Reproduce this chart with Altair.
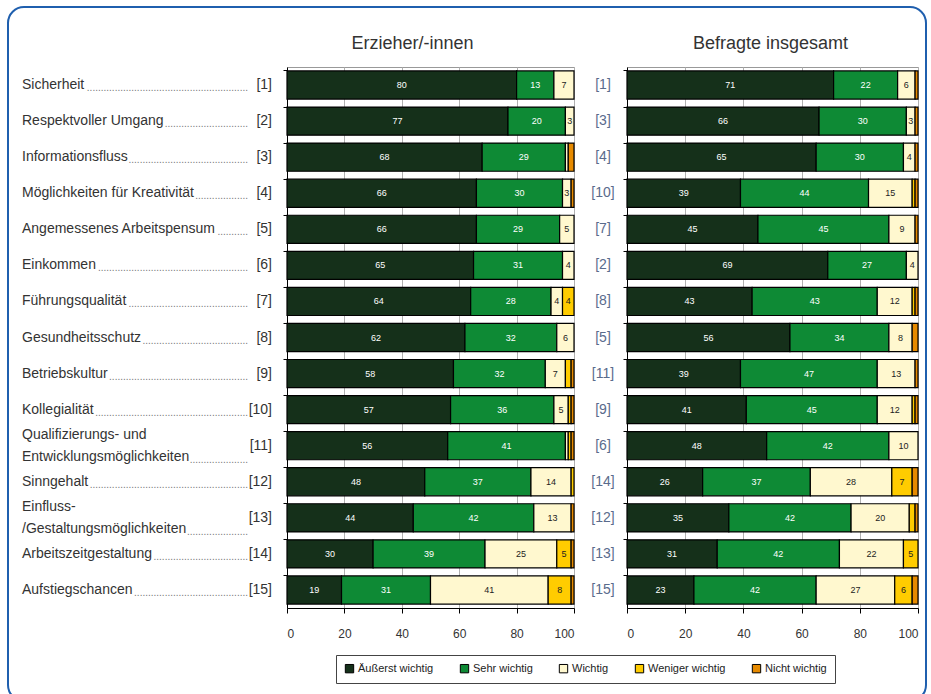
import altair as alt
import pandas as pd

items = [
    "Sicherheit", "Respektvoller Umgang", "Informationsfluss",
    "Möglichkeiten für Kreativität", "Angemessenes Arbeitspensum", "Einkommen",
    "Führungsqualität", "Gesundheitsschutz", "Betriebskultur", "Kollegialität",
    "Qualifizierungs- und\nEntwicklungsmöglichkeiten", "Sinngehalt",
    "Einfluss-\n/Gestaltungsmöglichkeiten", "Arbeitszeitgestaltung", "Aufstiegschancen",
]
rank_left = [1, 2, 3, 4, 5, 6, 7, 8, 9, 10, 11, 12, 13, 14, 15]
rank_right = [1, 3, 4, 10, 7, 2, 8, 5, 11, 9, 6, 14, 12, 13, 15]

categories = ["Äußerst wichtig", "Sehr wichtig", "Wichtig", "Weniger wichtig", "Nicht wichtig"]
colors = ["#15301a", "#0e8a35", "#fff8cf", "#ffcc00", "#e68a00"]

left_aeusserst = [80, 77, 68, 66, 66, 65, 64, 62, 58, 57, 56, 48, 44, 30, 19]
left_sehr = [13, 20, 29, 30, 29, 31, 28, 32, 32, 36, 41, 37, 42, 39, 31]
left_wichtig = [7, 3, 1, 3, 5, 4, 4, 6, 7, 5, 1, 14, 13, 25, 41]
left_weniger = [0, 0, 0, 0, 0, 0, 4, 0, 2, 1, 1, 1, 0, 5, 8]
left_nicht = [0, 0, 2, 1, 0, 0, 0, 0, 1, 1, 1, 0, 1, 1, 1]

right_aeusserst = [71, 66, 65, 39, 45, 69, 43, 56, 39, 41, 48, 26, 35, 31, 23]
right_sehr = [22, 30, 30, 44, 45, 27, 43, 34, 47, 45, 42, 37, 42, 42, 42]
right_wichtig = [6, 3, 4, 15, 9, 4, 12, 8, 13, 12, 10, 28, 20, 22, 27]
right_weniger = [0, 0, 0, 1, 0, 0, 1, 0, 0, 1, 0, 7, 2, 5, 6]
right_nicht = [1, 1, 1, 1, 1, 0, 1, 2, 1, 1, 0, 2, 1, 0, 2]

title_left = "Erzieher/-innen"
title_right = "Befragte insgesamt"
x_ticks = [0, 20, 40, 60, 80, 100]

FONT = "Liberation Sans"
keys = [s.replace("\n", " ") for s in items]

# ---- helpers -------------------------------------------------------------
AW = {'a': 556, 'b': 556, 'c': 500, 'd': 556, 'e': 556, 'f': 278, 'g': 556, 'h': 556,
      'i': 222, 'j': 222, 'k': 500, 'l': 222, 'm': 833, 'n': 556, 'o': 556, 'p': 556,
      'q': 556, 'r': 333, 's': 500, 't': 278, 'u': 556, 'v': 500, 'w': 722, 'x': 500,
      'y': 500, 'z': 500, 'ä': 556, 'ö': 556, 'ü': 556, 'ß': 611, 'A': 667, 'B': 667,
      'E': 667, 'F': 611, 'G': 778, 'I': 278, 'K': 667, 'M': 833, 'Q': 778, 'R': 722,
      'S': 667, 'U': 722, '-': 333, '/': 278, ' ': 278, '.': 278}


def text_width(s, size):
    return sum(AW.get(c, 556) for c in s) / 1000.0 * size


LABEL_SIZE = 14
DOT_SIZE = 10
DOT_END = 248
LABEL_X = 22
HALF_LINE = 11

rows = []
for key, s, r in zip(keys, items, rank_left):
    lines = s.split("\n")
    avail = DOT_END - LABEL_X - text_width(lines[-1], LABEL_SIZE)
    n = max(0, int(avail / (0.278 * DOT_SIZE)))
    rows.append(dict(item=key, line1=lines[0], line2=lines[1] if len(lines) > 1 else "",
                     nlines=len(lines), dots="." * n, rank=f"[{r}]"))
lab_df = pd.DataFrame(rows)


def build(series):
    out = []
    for i, key in enumerate(keys):
        start = 0
        for j, cat in enumerate(categories):
            v = series[j][i]
            out.append(dict(item=key, cat=cat, order=j, value=v,
                            start=start, end=start + v, mid=start + v / 2))
            start += v
    return pd.DataFrame(out)


df_left = build([left_aeusserst, left_sehr, left_wichtig, left_weniger, left_nicht])
df_right = build([right_aeusserst, right_sehr, right_wichtig, right_weniger, right_nicht])

ysc = alt.Scale(domain=keys, paddingInner=0.22, paddingOuter=0.11)
H = 541


def bar_panel(df, title, width, dx, show_legend):
    base = alt.Chart(df)
    y_enc = alt.Y("item:N", sort=keys, scale=ysc,
                  axis=alt.Axis(labels=False, title=None, bandPosition=0, tickSize=4,
                                tickColor="black", domainColor="black", grid=False))
    if show_legend:
        legend = alt.Legend(title=None, orient="none", legendX=336, legendY=588,
                            direction="horizontal", symbolType="square", symbolSize=70,
                            symbolStrokeColor="black", symbolStrokeWidth=1, symbolOpacity=1,
                            labelFontSize=11, labelColor="#222", labelFont=FONT,
                            strokeColor="#444", fillColor="white", padding=8,
                            columnPadding=24, labelOffset=3)
    else:
        legend = None
    bars = base.transform_filter("datum.value > 0").mark_bar(
        stroke="black", strokeWidth=1.2).encode(
        x=alt.X("start:Q", scale=alt.Scale(domain=[0, 100], nice=False),
                axis=alt.Axis(values=x_ticks, title=None, labelFontSize=12,
                              labelColor="#333", labelFont=FONT, tickColor="black",
                              domainColor="black", tickSize=5, labelPadding=15,
                              gridColor="#b0b0b0", grid=True)),
        x2="end:Q",
        y=y_enc,
        color=alt.Color("cat:N", scale=alt.Scale(domain=categories, range=colors),
                        legend=legend),
    )
    txt = base.transform_filter("datum.value >= 3").mark_text(
        fontSize=9, font=FONT, baseline="middle").encode(
        x="mid:Q",
        y=alt.Y("item:N", sort=keys, scale=ysc),
        text="value:Q",
        color=alt.condition("datum.order < 2", alt.value("white"), alt.value("#222")),
    )
    return (bars + txt).properties(
        width=width, height=H,
        title=alt.TitleParams(title, fontSize=18, font=FONT, color="#333",
                              fontWeight="normal", offset=14, dx=dx),
        view=alt.ViewBackground(stroke="#999", strokeWidth=1),
    )


rr_df = pd.DataFrame(dict(item=keys, rank=[f"[{r}]" for r in rank_right]))

y_plain = alt.Y("item:N", sort=keys, scale=ysc, axis=None)

frame = alt.Chart(pd.DataFrame(dict(k=[0]))).mark_rect(
    fill="white", fillOpacity=0, stroke="#1f5fae", strokeWidth=2, cornerRadius=16).encode(
    x=alt.value(8), x2=alt.value(926), y=alt.value(-60), y2=alt.value(634))

lab = alt.Chart(lab_df)
txt_style = dict(align="left", baseline="middle", fontSize=LABEL_SIZE, font=FONT, color="#333")
dot_style = dict(align="right", baseline="middle", fontSize=DOT_SIZE, font=FONT, color="#777")

single = lab.transform_filter("datum.nlines == 1").mark_text(**txt_style).encode(
    x=alt.value(LABEL_X), y=y_plain, text="line1:N")
first = lab.transform_filter("datum.nlines == 2").mark_text(dy=-HALF_LINE, **txt_style).encode(
    x=alt.value(LABEL_X), y=y_plain, text="line1:N")
second = lab.transform_filter("datum.nlines == 2").mark_text(dy=HALF_LINE, **txt_style).encode(
    x=alt.value(LABEL_X), y=y_plain, text="line2:N")
dots1 = lab.transform_filter("datum.nlines == 1").mark_text(dy=3, **dot_style).encode(
    x=alt.value(DOT_END), y=y_plain, text="dots:N")
dots2 = lab.transform_filter("datum.nlines == 2").mark_text(dy=HALF_LINE + 3, **dot_style).encode(
    x=alt.value(DOT_END), y=y_plain, text="dots:N")
ranks_l = lab.mark_text(
    align="right", baseline="middle", fontSize=LABEL_SIZE, font=FONT, color="#333").encode(
    x=alt.value(272), y=y_plain, text="rank:N")

label_panel = (frame + single + first + second + dots1 + dots2 + ranks_l).properties(
    width=287, height=H)

rank_panel = alt.Chart(rr_df).mark_text(
    align="center", baseline="middle", fontSize=LABEL_SIZE, font=FONT,
    color="#5a6b8c").encode(
    x=alt.value(29), y=y_plain, text="rank:N").properties(width=53, height=H)

left_panel = bar_panel(df_left, title_left, 287, -18, True)
right_panel = bar_panel(df_right, title_right, 291, -2, False)

chart = alt.hconcat(label_panel, left_panel, rank_panel, right_panel,
                    spacing=0, bounds="flush").resolve_scale(
    color="shared").properties(
    padding={"left": 0, "top": 6, "right": 0, "bottom": 0}
).configure(font=FONT).configure_view(strokeWidth=0)

chart.save("out.html", embed_options={"renderer": "svg", "actions": False})
